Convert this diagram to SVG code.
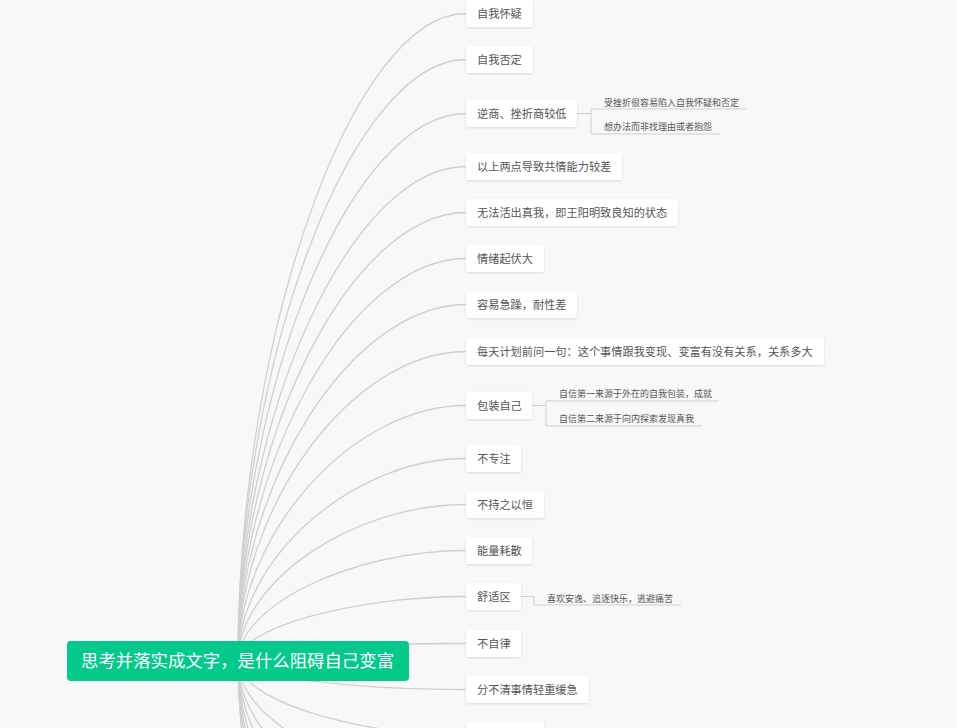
<svg xmlns="http://www.w3.org/2000/svg" width="957" height="728" viewBox="0 0 957 728">
<defs>
<filter id="sh" x="-10%" y="-30%" width="120%" height="170%">
<feDropShadow dx="0" dy="1" stdDeviation="1.2" flood-color="#000" flood-opacity="0.12"/>
</filter>
<style>
.bg{fill:#f8f8f8}
.c{fill:none;stroke:#cfcfcf;stroke-width:1.3}
.s{fill:none;stroke:#cfcfcf;stroke-width:1}
.box{fill:#ffffff;filter:url(#sh)}
.t{font-family:"Noto Sans CJK SC","Noto Sans",sans-serif;font-size:11.2px;fill:#555}
.st{font-family:"Noto Sans CJK SC","Noto Sans",sans-serif;font-size:9px;fill:#555}
.root{fill:#04c98b}
.rt{font-family:"Noto Sans CJK SC","Noto Sans",sans-serif;font-size:17.4px;fill:#ffffff}
</style>
</defs>
<rect class="bg" x="0" y="0" width="957" height="728"/>
<g id="connectors">
<path class="c" d="M238 661 C238 337.25 352 13.5 466 13.5"/>
<path class="c" d="M238 661 C238 360.25 352 59.5 466 59.5"/>
<path class="c" d="M238 661 C238 387.25 352 113.5 466 113.5"/>
<path class="c" d="M238 661 C238 413.75 352 166.5 466 166.5"/>
<path class="c" d="M238 661 C238 436.75 352 212.5 466 212.5"/>
<path class="c" d="M238 661 C238 459.75 352 258.5 466 258.5"/>
<path class="c" d="M238 661 C238 482.75 352 304.5 466 304.5"/>
<path class="c" d="M238 661 C238 506.25 352 351.5 466 351.5"/>
<path class="c" d="M238 661 C238 533.25 352 405.5 466 405.5"/>
<path class="c" d="M238 661 C238 559.75 352 458.5 466 458.5"/>
<path class="c" d="M238 661 C238 582.75 352 504.5 466 504.5"/>
<path class="c" d="M238 661 C238 605.75 352 550.5 466 550.5"/>
<path class="c" d="M238 661 C238 628.75 352 596.5 466 596.5"/>
<path class="c" d="M238 661 C238 652.25 352 643.5 466 643.5"/>
<path class="c" d="M238 661 C238 675.25 352 689.5 466 689.5"/>
<path class="c" d="M238 661 C238 698.25 352 735.5 466 735.5"/>
<path class="c" d="M238 661 C238 721.25 352 781.5 466 781.5"/>
<path class="c" d="M238 661 C238 744.25 352 827.5 466 827.5"/>
<path class="c" d="M238 661 C238 767.25 352 873.5 466 873.5"/>
<path class="c" d="M238 661 C238 790.25 352 919.5 466 919.5"/>
<path class="c" d="M238 661 C238 813.25 352 965.5 466 965.5"/>
<path class="c" d="M238 661 C238 836.25 352 1011.5 466 1011.5"/>
<path class="c" d="M238 661 C238 859.25 352 1057.5 466 1057.5"/>
<path class="c" d="M238 661 C238 882.25 352 1103.5 466 1103.5"/>
<path class="s" d="M577 113.5 H591 M591 109 V134 M591 109 H746 M591 134 H720"/>
<path class="s" d="M532 405.5 H546 M546 401 V426 M546 401 H719 M546 426 H702"/>
<path class="s" d="M521 596.5 H534 V605 H681"/>
</g>
<g id="root">
<rect class="root" x="67" y="641" width="342" height="40" rx="4"/>
<text class="rt" x="81" y="667">思考并落实成文字，是什么阻碍自己变富</text>
</g>
<g id="n1"><rect class="box" x="466" y="0" width="67" height="27" rx="3"/><text class="t" x="477" y="17.5">自我怀疑</text></g>
<g id="n2"><rect class="box" x="466" y="46" width="67" height="27" rx="3"/><text class="t" x="477" y="63.5">自我否定</text></g>
<g id="n3"><rect class="box" x="466" y="100" width="111" height="27" rx="3"/><text class="t" x="477" y="117.5">逆商、挫折商较低</text></g>
<g id="n3a"><text class="st" x="604" y="105.5">受挫折很容易陷入自我怀疑和否定</text></g>
<g id="n3b"><text class="st" x="604" y="130">想办法而非找理由或者抱怨</text></g>
<g id="n4"><rect class="box" x="466" y="153" width="156" height="27" rx="3"/><text class="t" x="477" y="170.5">以上两点导致共情能力较差</text></g>
<g id="n5"><rect class="box" x="466" y="199" width="212" height="27" rx="3"/><text class="t" x="477" y="216.5">无法活出真我，即王阳明致良知的状态</text></g>
<g id="n6"><rect class="box" x="466" y="245" width="78" height="27" rx="3"/><text class="t" x="477" y="262.5">情绪起伏大</text></g>
<g id="n7"><rect class="box" x="466" y="291" width="111" height="27" rx="3"/><text class="t" x="477" y="308.5">容易急躁，耐性差</text></g>
<g id="n8"><rect class="box" x="466" y="338" width="358" height="27" rx="3"/><text class="t" x="477" y="355.5">每天计划前问一句：这个事情跟我变现、变富有没有关系，关系多大</text></g>
<g id="n9"><rect class="box" x="466" y="392" width="66" height="27" rx="3"/><text class="t" x="477" y="409.5">包装自己</text></g>
<g id="n9a"><text class="st" x="559" y="397">自信第一来源于外在的自我包装，成就</text></g>
<g id="n9b"><text class="st" x="559" y="421.5">自信第二来源于向内探索发现真我</text></g>
<g id="n10"><rect class="box" x="466" y="445" width="55" height="27" rx="3"/><text class="t" x="477" y="462.5">不专注</text></g>
<g id="n11"><rect class="box" x="466" y="491" width="78" height="27" rx="3"/><text class="t" x="477" y="508.5">不持之以恒</text></g>
<g id="n12"><rect class="box" x="466" y="537" width="66" height="27" rx="3"/><text class="t" x="477" y="554.5">能量耗散</text></g>
<g id="n13"><rect class="box" x="466" y="583" width="55" height="27" rx="3"/><text class="t" x="477" y="600.5">舒适区</text></g>
<g id="n13a"><text class="st" x="547" y="601.5">喜欢安逸、追逐快乐，逃避痛苦</text></g>
<g id="n14"><rect class="box" x="466" y="630" width="55" height="27" rx="3"/><text class="t" x="477" y="647.5">不自律</text></g>
<g id="n15"><rect class="box" x="466" y="676" width="123" height="27" rx="3"/><text class="t" x="477" y="693.5">分不清事情轻重缓急</text></g>
<g id="n16"><rect class="box" x="466" y="722" width="78" height="27" rx="3"/></g>
</svg>
